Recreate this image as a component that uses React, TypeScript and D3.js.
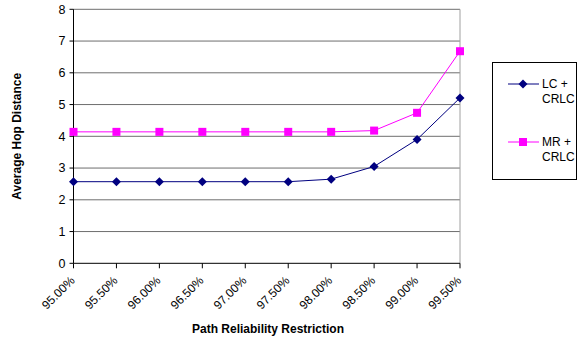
import React from "react";
import * as d3 from "d3";

const categories = ["95.00%", "95.50%", "96.00%", "96.50%", "97.00%", "97.50%", "98.00%", "98.50%", "99.00%", "99.50%"];
const lcValues = [2.57, 2.57, 2.57, 2.57, 2.57, 2.57, 2.65, 3.05, 3.9, 5.21];
const mrValues = [4.14, 4.14, 4.14, 4.14, 4.14, 4.14, 4.14, 4.18, 4.74, 6.68];
const yTicks = [0, 1, 2, 3, 4, 5, 6, 7, 8];
const seriesNames = [["LC +", "CRLC"], ["MR +", "CRLC"]];

const W = 579, H = 343;
const left = 73.5, right = 460, top = 9.3, bottom = 263.3;

export default function App() {
  const x = d3.scalePoint<string>().domain(categories).range([left, right]);
  const y = d3.scaleLinear().domain([0, 8]).range([bottom, top]);
  const line = d3.line<number>().x((_, i) => x(categories[i])!).y(d => y(d));
  const font = "'Liberation Sans', Arial, sans-serif";
  const diamond = (cx: number, cy: number) => `M${cx},${cy - 4.5}L${cx + 4.5},${cy}L${cx},${cy + 4.5}L${cx - 4.5},${cy}Z`;
  return (
    <svg width={W} height={H} style={{ position: "absolute", left: 0, top: 0, background: "#fff" }} fontFamily={font}>
      <rect x={0} y={0} width={W} height={H} fill="#fff" />
      {yTicks.map(t => (
        <g key={t}>
          {t > 0 && <line x1={left} x2={right} y1={y(t)} y2={y(t)} stroke="#6e6e6e" strokeWidth={1} />}
          <line x1={left - 4} x2={left} y1={y(t)} y2={y(t)} stroke="#000" />
          <text x={left - 8} y={y(t)} dy="0.35em" textAnchor="end" fontSize={12.5} fill="#000">{t}</text>
        </g>
      ))}
      <line x1={right} x2={right} y1={top} y2={bottom} stroke="#a0a0a0" />
      <line x1={left} x2={left} y1={top} y2={bottom} stroke="#000" />
      <line x1={left} x2={right} y1={bottom} y2={bottom} stroke="#000" />
      {categories.map(c => (
        <g key={c}>
          <line x1={x(c)} x2={x(c)} y1={bottom} y2={bottom + 5} stroke="#000" />
          <text transform={`translate(${x(c)! - 1},${bottom + 15}) rotate(-45)`} textAnchor="end" dy="0.35em" fontSize={12} fill="#000">{c}</text>
        </g>
      ))}
      <path d={line(mrValues)!} fill="none" stroke="#ff00ff" strokeWidth={1} />
      <path d={line(lcValues)!} fill="none" stroke="#000080" strokeWidth={1} />
      {mrValues.map((v, i) => (
        <rect key={i} x={x(categories[i])! - 4} y={y(v) - 4} width={8} height={8} fill="#ff00ff" />
      ))}
      {lcValues.map((v, i) => (
        <path key={i} d={diamond(x(categories[i])!, y(v))} fill="#000080" />
      ))}
      <text transform={`translate(21,${(top + bottom) / 2}) rotate(-90)`} textAnchor="middle" fontSize={12} fontWeight="bold">Average Hop Distance</text>
      <text x={268} y={333} textAnchor="middle" fontSize={12} fontWeight="bold">Path Reliability Restriction</text>
      <rect x={492.5} y={62.5} width={84} height={117} fill="#fff" stroke="#000" />
      <line x1={508} x2={539} y1={84} y2={84} stroke="#000080" />
      <path d={diamond(523, 84)} fill="#000080" />
      <text x={542} y={88} fontSize={12}>{seriesNames[0][0]}</text>
      <text x={542} y={103} fontSize={12}>{seriesNames[0][1]}</text>
      <line x1={508} x2={539} y1={142} y2={142} stroke="#ff00ff" />
      <rect x={519} y={138} width={8} height={8} fill="#ff00ff" />
      <text x={542} y={146} fontSize={12}>{seriesNames[1][0]}</text>
      <text x={542} y={161} fontSize={12}>{seriesNames[1][1]}</text>
    </svg>
  );
}
